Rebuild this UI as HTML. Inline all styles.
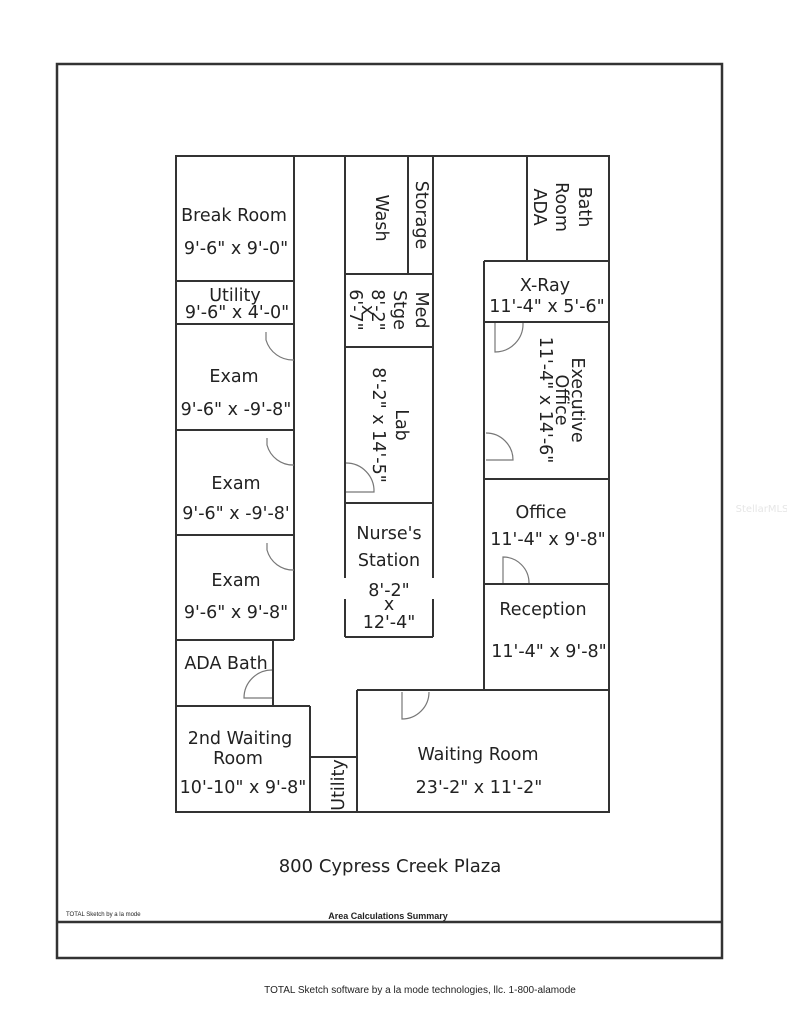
<!DOCTYPE html>
<html><head><meta charset="utf-8"><style>
html,body{margin:0;padding:0;background:#fff}
svg{display:block}
text{font-family:"DejaVu Sans","Liberation Sans",sans-serif;fill:#222;font-size:17.5px;text-anchor:middle}
</style></head><body>
<svg width="787" height="1024" viewBox="0 0 787 1024" xmlns="http://www.w3.org/2000/svg">
<rect width="787" height="1024" fill="#fff"/>
<g stroke="#333" stroke-width="2.5" fill="none">
<rect x="57" y="64" width="665" height="894"/>
<line x1="57" y1="922" x2="722" y2="922"/>
</g>
<g stroke="#333" stroke-width="2" fill="none">
<rect x="176" y="156" width="433" height="656"/>
<line x1="294" y1="156" x2="294" y2="640"/>
<line x1="176" y1="281" x2="294" y2="281"/>
<line x1="176" y1="324" x2="294" y2="324"/>
<line x1="176" y1="430" x2="294" y2="430"/>
<line x1="176" y1="535" x2="294" y2="535"/>
<line x1="176" y1="640" x2="294" y2="640"/>
<line x1="273" y1="640" x2="273" y2="706"/>
<line x1="176" y1="706" x2="310" y2="706"/>
<line x1="310" y1="706" x2="310" y2="812"/>
<line x1="310" y1="757" x2="357" y2="757"/>
<line x1="357" y1="690" x2="357" y2="812"/>
<line x1="357" y1="690" x2="609" y2="690"/>
<line x1="345" y1="156" x2="345" y2="578"/>
<line x1="345" y1="599" x2="345" y2="637"/>
<line x1="433" y1="156" x2="433" y2="578"/>
<line x1="433" y1="599" x2="433" y2="637"/>
<line x1="345" y1="637" x2="433" y2="637"/>
<line x1="408" y1="156" x2="408" y2="274"/>
<line x1="345" y1="274" x2="433" y2="274"/>
<line x1="345" y1="347" x2="433" y2="347"/>
<line x1="345" y1="503" x2="433" y2="503"/>
<line x1="527" y1="156" x2="527" y2="261"/>
<line x1="484" y1="261" x2="609" y2="261"/>
<line x1="484" y1="261" x2="484" y2="690"/>
<line x1="484" y1="322" x2="609" y2="322"/>
<line x1="484" y1="479" x2="609" y2="479"/>
<line x1="484" y1="584" x2="609" y2="584"/>
</g>
<g stroke="#777" stroke-width="1.2" fill="none">
<path d="M266,332 L266,340 A28,28 0 0 0 294,360"/>
<path d="M267,438 L267,445 A27,27 0 0 0 294,465"/>
<path d="M267,543 L267,550 A27,27 0 0 0 294,570"/>
<path d="M346,463 A28,28 0 0 1 374,492 L346,492"/>
<path d="M523,323 A28,28 0 0 1 495,352 L495,323"/>
<path d="M486,433 A27,27 0 0 1 513,460 L486,460"/>
<path d="M503,583 L503,557 A26,26 0 0 1 529,583"/>
<path d="M272,698 L244,698 A28,28 0 0 1 272,670"/>
<path d="M402,692 L402,719 A27,27 0 0 0 429,692"/>
</g>
<text x="234" y="221">Break Room</text>
<text x="236" y="254">9'-6" x 9'-0"</text>
<text x="235" y="301">Utility</text>
<text x="237" y="318">9'-6" x 4'-0"</text>
<text x="234" y="382">Exam</text>
<text x="236" y="415">9'-6" x -9'-8"</text>
<text x="236" y="489">Exam</text>
<text x="236" y="519">9'-6" x -9'-8'</text>
<text x="236" y="586">Exam</text>
<text x="236" y="618">9'-6" x 9'-8"</text>
<text x="226" y="669">ADA Bath</text>
<text x="240" y="744">2nd Waiting</text>
<text x="238" y="764">Room</text>
<text x="243" y="793">10'-10" x 9'-8"</text>
<text x="478" y="760">Waiting Room</text>
<text x="479" y="793">23'-2" x 11'-2"</text>
<text x="543" y="615">Reception</text>
<text x="549" y="657">11'-4" x 9'-8"</text>
<text x="541" y="518">Office</text>
<text x="548" y="545">11'-4" x 9'-8"</text>
<text x="545" y="291">X-Ray</text>
<text x="547" y="312">11'-4" x 5'-6"</text>
<text x="389" y="539">Nurse's</text>
<text x="389" y="566">Station</text>
<text x="389" y="596">8'-2"</text>
<text x="389" y="610">x</text>
<text x="389" y="628">12'-4"</text>
<g transform="translate(572,400) rotate(90)"><text x="0" y="0">Executive</text></g>
<g transform="translate(556,400) rotate(90)"><text x="0" y="0">Office</text></g>
<g transform="translate(540,400) rotate(90)"><text x="0" y="0">11'-4" x 14'-6"</text></g>
<g transform="translate(396,425) rotate(90)"><text x="0" y="0">Lab</text></g>
<g transform="translate(373,425) rotate(90)"><text x="0" y="0">8'-2" x 14'-5"</text></g>
<g transform="translate(416,310) rotate(90)"><text x="0" y="0">Med</text></g>
<g transform="translate(394,310) rotate(90)"><text x="0" y="0">Stge</text></g>
<g transform="translate(372,310) rotate(90)"><text x="0" y="0">8'-2"</text></g>
<g transform="translate(362,310) rotate(90)"><text x="0" y="0">x</text></g>
<g transform="translate(350,310) rotate(90)"><text x="0" y="0">6'-7"</text></g>
<g transform="translate(376,218) rotate(90)"><text x="0" y="0">Wash</text></g>
<g transform="translate(416,215) rotate(90)"><text x="0" y="0">Storage</text></g>
<g transform="translate(579,207) rotate(90)"><text x="0" y="0">Bath</text></g>
<g transform="translate(556,207) rotate(90)"><text x="0" y="0">Room</text></g>
<g transform="translate(534,207) rotate(90)"><text x="0" y="0">ADA</text></g>
<g transform="translate(344,785) rotate(-90)"><text x="0" y="0">Utility</text></g>
<text x="390" y="872" style="font-size:18px">800 Cypress Creek Plaza</text>
<text x="66" y="916" style="font-size:6px;text-anchor:start;font-family:'Liberation Sans',sans-serif">TOTAL Sketch by a la mode</text>
<text x="388" y="919" style="font-size:9px;font-weight:bold;font-family:'Liberation Sans',sans-serif">Area Calculations Summary</text>
<text x="420" y="993" style="font-size:10px;font-family:'Liberation Sans',sans-serif">TOTAL Sketch software by a la mode technologies, llc. 1-800-alamode</text>
<text x="762" y="512" style="font-size:10px;fill:#e6e6e6">StellarMLS</text>
</svg>
</body></html>
